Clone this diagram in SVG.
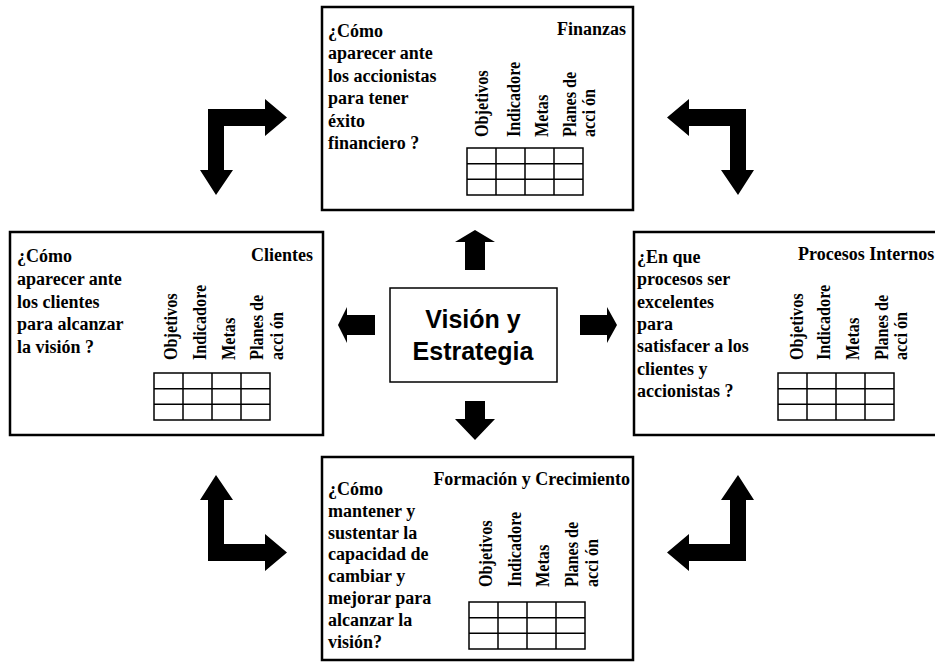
<svg xmlns="http://www.w3.org/2000/svg" width="935" height="664" viewBox="0 0 935 664">
<style>
.box{fill:#fff;stroke:#000;stroke-width:2.5}
.cbox{fill:#fff;stroke:#000;stroke-width:1.5}
.q{font-family:"Liberation Serif","Times New Roman",serif;font-weight:bold;font-size:18px;fill:#000}
.v{font-family:"Liberation Serif","Times New Roman",serif;font-weight:bold;font-size:18px;fill:#000}
.t{font-family:"Liberation Serif","Times New Roman",serif;font-weight:bold;font-size:18px;fill:#000}
.c{font-family:"Liberation Sans",Arial,sans-serif;font-weight:bold;font-size:25px;fill:#000;text-anchor:middle}
.tbl{fill:none;stroke:#000;stroke-width:1.5}
.arr{fill:#000;stroke:none}
</style>

<g id="connectors">
<polygon class="arr" points="475,230 495,242 485,242 485,270 465,270 465,242 455,242"/>
<polygon class="arr" points="465,401 485,401 485,419 495,419 475,440 455,419 465,419"/>
<polygon class="arr" points="338,325 347,307 347,315 375,315 375,335 347,335 347,343"/>
<polygon class="arr" points="580,315 607,315 607,307 617,325 607,343 607,335 580,335"/>
<polygon class="arr" points="208,109 265,109 265,99 287,117.5 265,136 265,126 224,126 224,170 233,170 216,195 200,170 208,170"/>
<polygon class="arr" points="746,109 689,109 689,99 667,117.5 689,136 689,126 730,126 730,170 721,170 738,195 754,170 746,170"/>
<polygon class="arr" points="208,561 265,561 265,571 287,552.5 265,534 265,544 224,544 224,500 233,500 216,475 200,500 208,500"/>
<polygon class="arr" points="746,561 689,561 689,571 667,552.5 689,534 689,544 730,544 730,500 721,500 738,475 754,500 746,500"/>
</g>

<g id="vision">
<rect class="cbox" x="390" y="288" width="167" height="94"/>
<text class="c" x="473" y="328">Visión y</text>
<text class="c" x="473" y="360">Estrategia</text>
</g>

<g id="finanzas" transform="translate(322,7)">
<rect class="box" x="0" y="0" width="311" height="203"/>
<text class="t" x="304" y="28" text-anchor="end">Finanzas</text>
<text class="q" x="6" y="30"><tspan x="6">¿Cómo</tspan><tspan x="6" dy="22.4">aparecer ante</tspan><tspan x="6" dy="22.4">los accionistas</tspan><tspan x="6" dy="22.4">para tener</tspan><tspan x="6" dy="22.4">éxito</tspan><tspan x="6" dy="22.4">financiero ?</tspan></text>
<text class="v" transform="translate(166,130) rotate(-90) scale(0.9,1)">Objetivos</text>
<text class="v" transform="translate(198,130) rotate(-90) scale(0.9,1)">Indicadore</text>
<text class="v" transform="translate(226,130) rotate(-90) scale(0.9,1)">Metas</text>
<text class="v" transform="translate(254,130) rotate(-90) scale(0.9,1)">Planes de</text>
<text class="v" transform="translate(273,130) rotate(-90) scale(0.9,1)">acci ón</text>
<g class="tbl" transform="translate(145,141)">
<rect x="0" y="0" width="116" height="47"/>
<path d="M29,0V47M58,0V47M87,0V47M0,15.67H116M0,31.33H116"/>
</g>
</g>

<g id="clientes" transform="translate(10,232)">
<rect class="box" x="0" y="0" width="313" height="203"/>
<text class="t" x="303" y="29" text-anchor="end">Clientes</text>
<text class="q" x="7" y="30"><tspan x="7">¿Cómo</tspan><tspan x="7" dy="22.8">aparecer ante</tspan><tspan x="7" dy="22.8">los clientes</tspan><tspan x="7" dy="22.8">para alcanzar</tspan><tspan x="7" dy="22.8">la visión ?</tspan></text>
<text class="v" transform="translate(167,128) rotate(-90) scale(0.9,1)">Objetivos</text>
<text class="v" transform="translate(196,128) rotate(-90) scale(0.9,1)">Indicadore</text>
<text class="v" transform="translate(225,128) rotate(-90) scale(0.9,1)">Metas</text>
<text class="v" transform="translate(253,128) rotate(-90) scale(0.9,1)">Planes de</text>
<text class="v" transform="translate(273,128) rotate(-90) scale(0.9,1)">acci ón</text>
<g class="tbl" transform="translate(144,141)">
<rect x="0" y="0" width="116" height="47"/>
<path d="M29,0V47M58,0V47M87,0V47M0,15.67H116M0,31.33H116"/>
</g>
</g>

<g id="procesos" transform="translate(634,232)">
<rect class="box" x="0" y="0" width="311" height="203"/>
<text class="t" x="164" y="28">Procesos Internos</text>
<text class="q" x="3" y="31"><tspan x="3">¿En que</tspan><tspan x="3" dy="22.3">procesos ser</tspan><tspan x="3" dy="22.3">excelentes</tspan><tspan x="3" dy="22.3">para</tspan><tspan x="3" dy="22.3">satisfacer a los</tspan><tspan x="3" dy="22.3">clientes y</tspan><tspan x="3" dy="22.3">accionistas ?</tspan></text>
<text class="v" transform="translate(169,128) rotate(-90) scale(0.9,1)">Objetivos</text>
<text class="v" transform="translate(196,128) rotate(-90) scale(0.9,1)">Indicadore</text>
<text class="v" transform="translate(225,128) rotate(-90) scale(0.9,1)">Metas</text>
<text class="v" transform="translate(254,128) rotate(-90) scale(0.9,1)">Planes de</text>
<text class="v" transform="translate(273,128) rotate(-90) scale(0.9,1)">acci ón</text>
<g class="tbl" transform="translate(144,141)">
<rect x="0" y="0" width="116" height="47"/>
<path d="M29,0V47M58,0V47M87,0V47M0,15.67H116M0,31.33H116"/>
</g>
</g>

<g id="formacion" transform="translate(322,457)">
<rect class="box" x="0" y="0" width="311" height="203"/>
<text class="t" x="308" y="28" text-anchor="end">Formación y Crecimiento</text>
<text class="q" x="6" y="38"><tspan x="6">¿Cómo</tspan><tspan x="6" dy="21.8">mantener y</tspan><tspan x="6" dy="21.8">sustentar la</tspan><tspan x="6" dy="21.8">capacidad de</tspan><tspan x="6" dy="21.8">cambiar y</tspan><tspan x="6" dy="21.8">mejorar para</tspan><tspan x="6" dy="21.8">alcanzar la</tspan><tspan x="6" dy="21.8">visión?</tspan></text>
<text class="v" transform="translate(170,130) rotate(-90) scale(0.9,1)">Objetivos</text>
<text class="v" transform="translate(199,130) rotate(-90) scale(0.9,1)">Indicadore</text>
<text class="v" transform="translate(227,130) rotate(-90) scale(0.9,1)">Metas</text>
<text class="v" transform="translate(256,130) rotate(-90) scale(0.9,1)">Planes de</text>
<text class="v" transform="translate(276,130) rotate(-90) scale(0.9,1)">acci ón</text>
<g class="tbl" transform="translate(147,145)">
<rect x="0" y="0" width="116" height="47"/>
<path d="M29,0V47M58,0V47M87,0V47M0,15.67H116M0,31.33H116"/>
</g>
</g>
</svg>
